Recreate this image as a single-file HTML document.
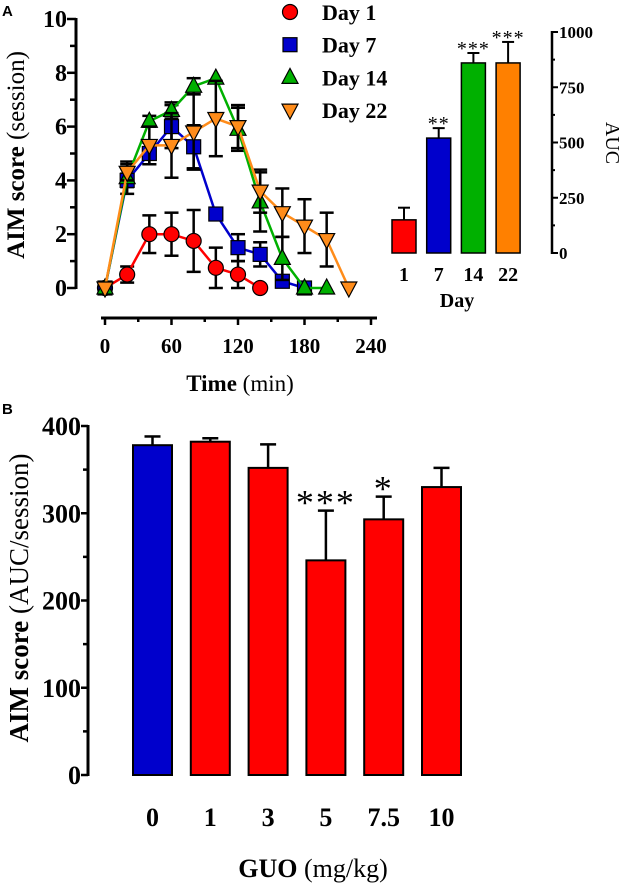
<!DOCTYPE html>
<html><head><meta charset="utf-8"><style>
body{margin:0;background:#fff}
svg{display:block;font-family:"Liberation Serif",serif}
</style></head><body>
<svg id="s" width="634" height="884" xmlns="http://www.w3.org/2000/svg">
<text x="2" y="16" font-family="Liberation Sans" font-weight="bold" font-size="15">A</text>
<text x="2" y="414" font-family="Liberation Sans" font-weight="bold" font-size="15">B</text>
<g id="gA"></g>
<g id="gR"></g>
<g id="gB"></g>
</svg>
<script>
// Panel A time course data
const times = [0,20,40,60,80,100,120,140,160,180,200,220];
const day1 = [0,0.5,2,2,1.75,0.75,0.5,0];
const day1Err = [0,0.3,0.7,0.8,1.15,0.75,0.5,0];
const day7 = [0,4,5,6,5.25,2.75,1.5,1.25,0.25,0];
const day7Err = [0,0.25,0.4,0.8,0.8,0,0.5,0.45,0,0];
const day14 = [0,4.1,6.2,6.6,7.5,7.8,5.9,3.2,1.1,0,0];
const day14Err = [0,0.6,0.2,0.3,0.3,0,0.8,1.1,0.8,0,0];
const day22 = [0,4.3,5.3,5.3,5.8,6.3,6.0,3.6,2.8,2.3,1.8,0];
const day22Err = [0,0.3,0.7,1.2,1.4,1.4,0.8,0.8,0.9,1.0,1.0,0];
const yTicksA = [0,2,4,6,8,10];
const xTicksA = [0,60,120,180,240];
// AUC bars
const aucDays = ["1","7","14","22"];
const aucVals = [150,520,860,860];
const aucErr = [55,45,45,95];
const aucStars = ["","**","***","***"];
const aucTicks = [0,250,500,750,1000];
// Panel B
const guoDoses = ["0","1","3","5","7.5","10"];
const guoVals = [378,382,352,246,293,330];
const guoErr = [10,4,27,57,26,22];
const guoStars = ["","","","***","*",""];
const guoTicks = [0,100,200,300,400];

const NS="http://www.w3.org/2000/svg";
function mk(p,t,a,txt){const e=document.createElementNS(NS,t);for(const k in a)e.setAttribute(k,a[k]);if(txt!==undefined)e.textContent=txt;p.appendChild(e);return e;}

// ---- Panel A
const gA=document.getElementById('gA');
const xA=t=>105+t*(266/240);
const yA=v=>288-v*26.9;
mk(gA,'line',{x1:76,y1:yA(10)-1,x2:76,y2:yA(0)+1,stroke:'#000','stroke-width':3});
for(let v=0;v<=10;v++){mk(gA,'line',{x1:v%2?70:67,y1:yA(v),x2:76,y2:yA(v),stroke:'#000','stroke-width':2.5});}
yTicksA.forEach(v=>{const t=mk(gA,'text',{x:67,y:yA(v)+8,'text-anchor':'end','font-size':24,'font-weight':'bold'},String(v));

});
mk(gA,'line',{x1:101,y1:318,x2:377,y2:318,stroke:'#000','stroke-width':3});
for(let t=0;t<=240;t+=30){mk(gA,'line',{x1:xA(t),y1:318,x2:xA(t),y2:t%60?322:325,stroke:'#000','stroke-width':2.5});}
xTicksA.forEach(v=>{const t=mk(gA,'text',{x:xA(v),y:353,'text-anchor':'middle','font-size':21,'font-weight':'bold'},String(v));

});
let xt=mk(gA,'text',{x:240,y:391,'text-anchor':'middle','font-size':23});
xt.innerHTML='<tspan font-weight="bold">Time</tspan> (min)';


let yt=mk(gA,'text',{x:0,y:0,'text-anchor':'middle','font-size':25,transform:'translate(24,155) rotate(-90)'});
yt.innerHTML='<tspan font-weight="bold">AIM score</tspan> (session)';



const series=[[day1,day1Err,'#ff0000','circle','Day 1'],[day7,day7Err,'#0000cc','square','Day 7'],[day14,day14Err,'#00b000','tri','Day 14'],[day22,day22Err,'#ff8c1a','tridown','Day 22']];
function marker(g,sh,x,y,c){
  const a={fill:c,stroke:'#000','stroke-width':1.2};
  if(sh==='circle')return mk(g,'circle',Object.assign({cx:x,cy:y,r:7.5},a));
  if(sh==='square')return mk(g,'rect',Object.assign({x:x-7,y:y-7,width:14,height:14},a));
  if(sh==='tri')return mk(g,'polygon',Object.assign({points:`${x},${y-9} ${x-8},${y+6} ${x+8},${y+6}`},a));
  return mk(g,'polygon',Object.assign({points:`${x},${y+9} ${x-8},${y-6} ${x+8},${y-6}`},a));
}
series.forEach((s,si)=>{
  const [vals,errs,c,sh,name]=s;
  const g=mk(gA,'g',{});
  
  
  vals.forEach((v,i)=>{if(errs[i]>0){const x=xA(times[i]);
    mk(g,'line',{x1:x,y1:yA(v+errs[i]),x2:x,y2:yA(v-errs[i]),stroke:'#000','stroke-width':2.5});
    mk(g,'line',{x1:x-7,y1:yA(v+errs[i]),x2:x+7,y2:yA(v+errs[i]),stroke:'#000','stroke-width':2.5});
    mk(g,'line',{x1:x-7,y1:yA(v-errs[i]),x2:x+7,y2:yA(v-errs[i]),stroke:'#000','stroke-width':2.5});}});
  mk(g,'polyline',{points:vals.map((v,i)=>xA(times[i])+','+yA(v)).join(' '),fill:'none',stroke:c,'stroke-width':2.5});
  vals.forEach((v,i)=>{const m=marker(g,sh,xA(times[i]),yA(v),c);
    
    });
  const ly=12+si*32.7;
  const lm=marker(gA,sh,290,ly,c);
  
  
  const lt=mk(gA,'text',{x:322,y:ly+8,'font-size':22,'font-weight':'bold'},name);
  
  
});

// ---- AUC bars
const gR=document.getElementById('gR');
const yR=v=>253-v*0.221;
const barColors=['#ff0000','#0000cc','#00b000','#ff8000'];
mk(gR,'line',{x1:552,y1:yR(1000)-1,x2:552,y2:yR(0)+1,stroke:'#000','stroke-width':2.5});
for(let v=0;v<=1000;v+=125){mk(gR,'line',{x1:552,y1:yR(v),x2:v%250?555:558,y2:yR(v),stroke:'#000','stroke-width':2});}
aucTicks.forEach(v=>{const t=mk(gR,'text',{x:559,y:yR(v)+6,'font-size':17,'font-weight':'bold'},String(v));

});
let at=mk(gR,'text',{x:0,y:0,'text-anchor':'middle','font-size':20,transform:'translate(606,143) rotate(90)'},'AUC');


aucVals.forEach((v,i)=>{const x=392+i*34.7,w=24,cx=x+w/2;
  mk(gR,'line',{x1:cx,y1:yR(v),x2:cx,y2:yR(v+aucErr[i]),stroke:'#000','stroke-width':2});
  mk(gR,'line',{x1:cx-6,y1:yR(v+aucErr[i]),x2:cx+6,y2:yR(v+aucErr[i]),stroke:'#000','stroke-width':2});
  const b=mk(gR,'rect',{x:x,y:yR(v),width:w,height:yR(0)-yR(v),fill:barColors[i],stroke:'#000','stroke-width':1.5});
  
  
  if(aucStars[i]){const s=mk(gR,'text',{x:cx,y:yR(v+aucErr[i])+2,'text-anchor':'middle','font-size':20,'letter-spacing':'1'},aucStars[i]);
    
    }
  const l=mk(gR,'text',{x:cx,y:281,'text-anchor':'middle','font-size':20,'font-weight':'bold'},aucDays[i]);
  
  
});
let dt=mk(gR,'text',{x:457,y:307,'text-anchor':'middle','font-size':20,'font-weight':'bold'},'Day');



// ---- Panel B
const gB=document.getElementById('gB');
const yB=v=>775-v*0.8725;
mk(gB,'line',{x1:88,y1:yB(400)-1,x2:88,y2:yB(0)+1,stroke:'#000','stroke-width':3});
for(let v=0;v<=400;v+=50){mk(gB,'line',{x1:v%100?83:81,y1:yB(v),x2:88,y2:yB(v),stroke:'#000','stroke-width':2.5});}
guoTicks.forEach(v=>{const t=mk(gB,'text',{x:81,y:yB(v)+9,'text-anchor':'end','font-size':26,'font-weight':'bold'},String(v));

});
guoVals.forEach((v,i)=>{const x=133+i*57.8,w=39,cx=x+w/2;
  mk(gB,'line',{x1:cx,y1:yB(v),x2:cx,y2:yB(v+guoErr[i]),stroke:'#000','stroke-width':2.5});
  mk(gB,'line',{x1:cx-8,y1:yB(v+guoErr[i]),x2:cx+8,y2:yB(v+guoErr[i]),stroke:'#000','stroke-width':2.5});
  const b=mk(gB,'rect',{x:x,y:yB(v),width:w,height:yB(0)-yB(v),fill:i===0?'#0000cc':'#ff0000',stroke:'#000','stroke-width':2});
  
  
  if(guoStars[i]){const s=mk(gB,'text',{x:cx,y:yB(v+guoErr[i])+4,'text-anchor':'middle','font-size':36,'letter-spacing':'2'},guoStars[i]);
    
    }
  const l=mk(gB,'text',{x:cx,y:826,'text-anchor':'middle','font-size':26,'font-weight':'bold'},guoDoses[i]);
  
  
});
let gx=mk(gB,'text',{x:313,y:877,'text-anchor':'middle','font-size':26});
gx.innerHTML='<tspan font-weight="bold">GUO</tspan> (mg/kg)';


let gy=mk(gB,'text',{x:0,y:0,'text-anchor':'middle','font-size':27,transform:'translate(28,598) rotate(-90)'});
gy.innerHTML='<tspan font-weight="bold">AIM score</tspan> (AUC/session)';


</script>
</body></html>
